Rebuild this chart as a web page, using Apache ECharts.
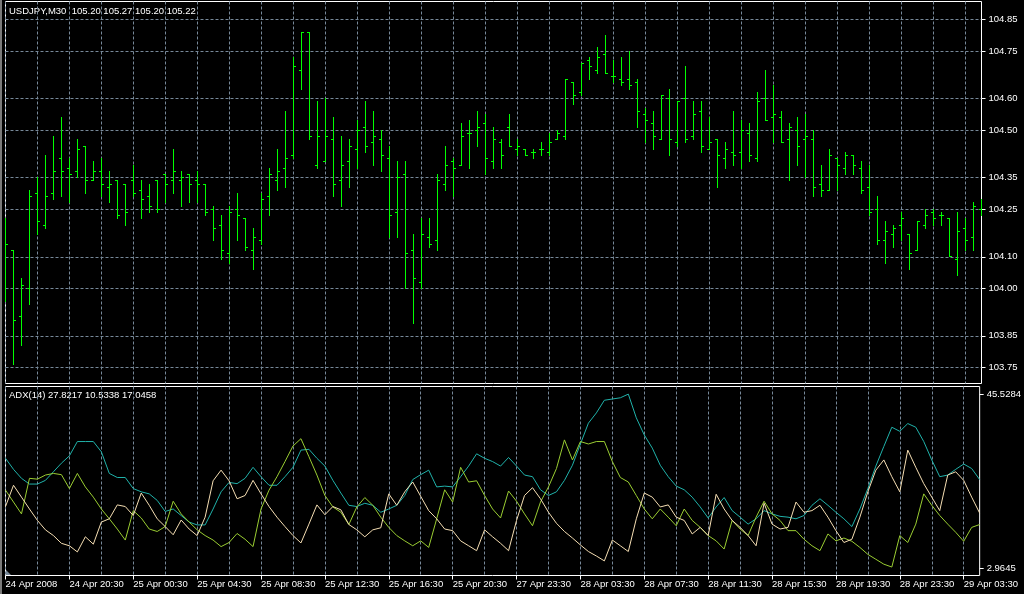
<!DOCTYPE html>
<html><head><meta charset="utf-8">
<script src="https://cdn.jsdelivr.net/npm/echarts@6/dist/echarts.min.js"></script>
<style>html,body{margin:0;padding:0;background:#000}#c{width:1024px;height:594px}</style>
</head><body><div id="c"></div>
<script>
const symbolTitle = 'USDJPY,M30  105.20 105.27 105.20 105.22';
const adxTitle = 'ADX(14) 27.8217 10.5338 17.0458';
const firstDateLabel = '24 Apr 2008';
const priceTicks = [104.85, 104.75, 104.60, 104.50, 104.35, 104.25, 104.10, 104.00, 103.85, 103.75];
const adxTicks = [45.5284, 2.9645];

const opens = [
104.20,104.12,103.91,104.00,104.30,104.20,104.30,104.41,104.38,104.37,
104.45,104.34,104.37,104.32,104.34,104.33,104.34,104.31,104.29,104.34,
104.36,104.34,104.34,104.36,104.34,104.33,104.25,104.20,104.11,104.25,
104.22,104.12,104.15,104.29,104.34,104.38,104.42,104.69,104.81,104.39,
104.40,104.47,104.34,104.40,104.44,104.51,104.46,104.47,104.41,104.24,
104.36,104.12,104.02,104.16,104.15,104.33,104.40,104.39,104.49,104.50,
104.52,104.40,104.46,104.51,104.44,104.44,104.43,104.44,104.43,104.47,
104.48,104.65,104.62,104.72,104.69,104.74,104.67,104.66,104.66,104.65,
104.55,104.52,104.47,104.60,104.46,104.60,104.48,104.56,104.44,104.47,
104.41,104.43,104.43,104.49,104.41,104.60,104.54,104.54,104.47,104.50,
104.47,104.47,104.33,104.31,104.41,104.38,104.42,104.38,104.32,104.25,
104.15,104.17,104.20,104.17,104.12,104.20,104.24,104.23,104.22,104.09,
104.19,104.16,104.25];
const highs = [
104.22,104.12,104.03,104.31,104.35,104.42,104.48,104.54,104.41,104.47,
104.45,104.40,104.41,104.37,104.34,104.33,104.39,104.34,104.33,104.34,
104.36,104.44,104.37,104.36,104.37,104.33,104.26,104.23,104.26,104.30,
104.22,104.19,104.30,104.38,104.44,104.56,104.73,104.81,104.81,104.59,
104.60,104.54,104.48,104.47,104.53,104.59,104.56,104.50,104.45,104.40,
104.40,104.17,104.22,104.22,104.36,104.45,104.41,104.52,104.53,104.56,
104.55,104.51,104.47,104.55,104.47,104.44,104.44,104.46,104.49,104.50,
104.66,104.65,104.71,104.73,104.76,104.80,104.72,104.73,104.75,104.66,
104.57,104.56,104.61,104.63,104.59,104.70,104.59,104.59,104.54,104.47,
104.46,104.56,104.53,104.52,104.62,104.69,104.64,104.56,104.52,104.54,
104.55,104.50,104.39,104.44,104.41,104.43,104.42,104.40,104.39,104.29,
104.21,104.20,104.24,104.17,104.21,104.25,104.25,104.24,104.22,104.24,
104.22,104.27,104.28];
const lows = [
103.96,103.76,103.82,103.95,104.17,104.19,104.28,104.29,104.27,104.35,
104.30,104.34,104.29,104.27,104.22,104.20,104.29,104.22,104.24,104.24,
104.27,104.30,104.26,104.27,104.27,104.23,104.15,104.09,104.08,104.15,
104.12,104.06,104.14,104.23,104.31,104.32,104.41,104.63,104.47,104.38,
104.40,104.29,104.26,104.32,104.38,104.43,104.39,104.37,104.16,104.16,
104.00,103.89,104.00,104.13,104.12,104.31,104.29,104.39,104.38,104.45,
104.36,104.38,104.38,104.45,104.42,104.42,104.41,104.42,104.42,104.47,
104.47,104.58,104.61,104.66,104.68,104.68,104.65,104.64,104.63,104.51,
104.46,104.44,104.47,104.42,104.45,104.46,104.47,104.43,104.44,104.32,
104.38,104.39,104.38,104.40,104.40,104.53,104.46,104.46,104.34,104.39,
104.35,104.29,104.29,104.31,104.31,104.36,104.36,104.30,104.23,104.14,
104.08,104.13,104.15,104.06,104.12,104.19,104.20,104.20,104.10,104.04,
104.12,104.12,104.23];
const closes = [
104.14,103.90,104.01,104.29,104.21,104.29,104.37,104.37,104.36,104.44,
104.34,104.37,104.33,104.33,104.23,104.24,104.30,104.28,104.26,104.25,
104.33,104.37,104.35,104.33,104.33,104.24,104.19,104.12,104.24,104.23,
104.13,104.16,104.28,104.36,104.37,104.41,104.70,104.81,104.48,104.48,
104.48,104.33,104.39,104.45,104.50,104.45,104.48,104.42,104.23,104.35,
104.11,104.03,104.17,104.14,104.34,104.39,104.38,104.48,104.49,104.51,
104.41,104.47,104.42,104.45,104.45,104.42,104.43,104.44,104.46,104.49,
104.66,104.61,104.71,104.70,104.73,104.68,104.67,104.65,104.64,104.56,
104.53,104.48,104.61,104.47,104.59,104.47,104.55,104.45,104.46,104.42,
104.44,104.42,104.50,104.42,104.59,104.53,104.55,104.46,104.51,104.45,
104.48,104.32,104.31,104.42,104.39,104.42,104.39,104.31,104.24,104.15,
104.18,104.19,104.22,104.11,104.21,104.23,104.22,104.23,104.10,104.18,
104.15,104.26,104.26];

const adx = [
29.8,27.1,24.9,23.5,23.5,24.4,26.5,28.6,30.4,33.9,
33.9,33.9,31.4,26.1,25.1,25.1,22.4,21.6,21.1,19.5,
16.8,17.4,15.8,14.2,13.5,13.5,17.4,21.6,23.9,23.6,
24.9,27.6,25.3,23.2,23.2,25.3,27.6,31.8,32.0,29.8,
27.9,24.4,21.3,18.3,18.0,18.8,18.3,16.6,17.4,18.3,
20.7,24.6,25.8,26.9,22.8,23.0,22.8,25.3,27.9,30.9,
29.8,29.0,27.9,30.0,27.9,25.7,25.3,22.1,20.7,21.6,
24.4,28.1,33.3,38.4,40.9,44.0,44.3,44.6,45.5,39.7,
35.5,32.3,28.1,25.3,23.0,22.1,20.3,17.9,15.2,17.9,
20.2,17.0,15.4,13.7,15.0,17.0,16.2,15.6,15.4,15.0,
15.8,18.3,19.9,18.3,16.6,15.0,13.1,17.4,22.4,27.9,
32.7,37.4,36.4,38.3,37.4,33.9,29.4,25.3,25.7,27.1,
28.4,27.3,24.6];
const plusDI = [
22.0,19.1,16.2,24.9,24.7,25.7,26.1,25.8,22.4,26.1,
22.8,20.3,17.4,15.0,12.5,9.8,17.0,15.2,12.5,11.9,
13.1,19.3,16.2,14.2,12.3,10.9,9.8,8.2,9.2,11.4,
10.0,8.2,17.4,22.0,25.3,29.0,32.8,34.6,30.2,25.7,
20.7,17.9,16.6,13.6,17.9,20.2,18.3,15.4,12.9,10.9,
9.6,8.4,9.6,8.0,15.0,22.1,19.1,27.6,24.0,24.3,
20.7,17.4,15.2,21.8,19.3,16.2,13.3,19.1,22.8,27.3,
34.3,29.4,33.9,33.3,33.9,33.9,29.0,25.1,24.0,20.7,
17.4,15.0,17.4,15.4,13.3,17.4,14.6,12.9,10.9,9.6,
7.6,14.6,12.5,10.9,15.4,19.3,16.2,14.6,12.1,12.1,
10.0,8.4,7.2,11.3,9.6,10.3,9.5,8.0,6.3,5.1,
3.9,3.2,10.9,9.2,13.7,21.1,18.3,15.8,13.7,11.7,
9.5,12.9,13.6];
const minusDI = [
18.0,23.2,20.3,17.4,14.6,12.3,10.9,9.0,8.4,6.9,
10.6,8.8,14.2,15.0,18.4,18.0,15.8,21.3,18.3,15.0,
13.1,11.1,14.7,12.5,10.9,15.4,24.3,26.9,24.3,19.9,
20.7,24.4,21.1,18.0,15.4,13.1,10.9,9.1,13.7,18.4,
16.0,18.0,17.2,13.6,12.3,10.6,12.3,12.8,21.1,18.3,
21.6,24.0,20.5,17.0,15.0,12.5,12.1,9.6,8.4,7.2,
12.3,10.6,9.0,7.2,14.6,20.7,22.6,19.9,16.6,13.9,
11.9,10.3,8.6,7.0,5.9,4.7,9.8,8.4,7.0,15.0,
21.3,20.3,17.9,18.4,15.4,14.6,11.3,12.9,10.9,21.0,
17.4,14.6,12.9,10.9,8.4,18.8,13.7,12.5,12.9,19.1,
16.6,17.0,18.3,15.4,12.1,9.2,10.0,15.4,21.6,26.9,
29.4,25.3,21.6,31.8,27.6,23.6,20.3,17.0,25.7,26.5,
24.4,20.3,16.4];

// bar times: M30 bars starting 24 Apr 2008 16:30, weekend gap to Sunday 23:00
function buildTimes(n) {
  const mon = ['Jan','Feb','Mar','Apr','May','Jun','Jul','Aug','Sep','Oct','Nov','Dec'];
  const out = [];
  let t = new Date(2008, 3, 24, 16, 30);
  for (let i = 0; i < n; i++) {
    const p = v => (v < 10 ? '0' : '') + v;
    out.push(t.getDate() + ' ' + mon[t.getMonth()] + ' ' + p(t.getHours()) + ':' + p(t.getMinutes()));
    t = new Date(t.getTime() + 30 * 60000);
    if (t.getDay() === 6) t = new Date(2008, 3, 27, 23, 0);
  }
  return out;
}
const categories = buildTimes(opens.length);

const FONT = '"Liberation Sans", Arial, sans-serif';
const GRIDC = '#778899';
const BARC = '#00ff00';

function renderBar(params, api) {
  const i = api.value(0);
  const po = api.coord([i, api.value(1)]);
  const pc = api.coord([i, api.value(2)]);
  const pl = api.coord([i, api.value(3)]);
  const ph = api.coord([i, api.value(4)]);
  const x = Math.floor(po[0]);
  const yo = Math.floor(po[1]), yc = Math.floor(pc[1]);
  const yh = Math.floor(ph[1]), yl = Math.floor(pl[1]);
  const st = { fill: BARC, stroke: null };
  return {
    type: 'group',
    children: [
      { type: 'rect', shape: { x: x, y: yh, width: 1, height: Math.max(1, yl - yh + 1) }, style: st },
      { type: 'rect', shape: { x: x - 2, y: yo, width: 2, height: 1 }, style: st },
      { type: 'rect', shape: { x: x + 1, y: yc, width: 2, height: 1 }, style: st }
    ]
  };
}

const chart = echarts.init(document.getElementById('c'), null, { renderer: 'canvas' });
chart.setOption({
  backgroundColor: '#000',
  animation: false,
  textStyle: { fontFamily: FONT },
  grid: [
    { left: 5.5, top: 1.5, width: 976, height: 382, show: true, borderColor: '#fff', borderWidth: 1, backgroundColor: '#000' },
    { left: 5.5, top: 386.5, width: 976, height: 189, show: true, borderColor: '#fff', borderWidth: 1, backgroundColor: '#000' }
  ],
  xAxis: [
    { type: 'category', gridIndex: 0, data: categories, boundaryGap: false,
      axisLine: { show: false }, axisTick: { show: false }, axisLabel: { show: false },
      splitLine: { show: true, interval: 3, lineStyle: { color: GRIDC, width: 1, type: [3, 2] } } },
    { type: 'category', gridIndex: 1, data: categories, boundaryGap: false,
      axisLine: { show: false },
      axisTick: { show: true, interval: 7, length: 4, lineStyle: { color: '#fff' } },
      axisLabel: { show: true, interval: 7, color: '#fff', fontSize: 9.5, fontFamily: FONT, align: 'left', margin: 4,
        formatter: (v, idx) => idx === 0 ? firstDateLabel : v },
      splitLine: { show: true, interval: 3, lineStyle: { color: GRIDC, width: 1, type: [3, 2] } } }
  ],
  yAxis: [
    { type: 'value', gridIndex: 0, position: 'right', min: 103.69942, max: 104.9069,
      axisLine: { show: false },
      axisTick: { show: true, length: 4, customValues: priceTicks, lineStyle: { color: '#fff' } },
      axisLabel: { show: true, customValues: priceTicks, color: '#fff', fontSize: 9.5, fontFamily: FONT, margin: 7,
        formatter: v => Number(v).toFixed(2) },
      splitLine: { show: true, lineStyle: { color: GRIDC, width: 1, type: [3, 2] } } },
    { type: 'value', gridIndex: 1, position: 'right', min: 1.130, max: 47.363,
      axisLine: { show: false },
      axisTick: { show: true, length: 4, customValues: adxTicks, lineStyle: { color: '#fff' } },
      axisLabel: { show: true, customValues: adxTicks, color: '#fff', fontSize: 9.5, fontFamily: FONT, margin: 7,
        formatter: v => Number(v).toFixed(4) },
      splitLine: { show: false } }
  ],
  series: [
    { type: 'custom', name: 'USDJPY', xAxisIndex: 0, yAxisIndex: 0, clip: true,
      renderItem: renderBar,
      encode: { x: 0, y: [1, 2, 3, 4] },
      data: categories.map((c, i) => [i, opens[i], closes[i], lows[i], highs[i]]) },
    { type: 'line', name: 'ADX', xAxisIndex: 1, yAxisIndex: 1, data: adx, showSymbol: false, symbol: 'none',
      lineStyle: { color: '#20b2aa', width: 1 }, itemStyle: { color: '#20b2aa' } },
    { type: 'line', name: '+DI', xAxisIndex: 1, yAxisIndex: 1, data: plusDI, showSymbol: false, symbol: 'none',
      lineStyle: { color: '#9acd32', width: 1 }, itemStyle: { color: '#9acd32' } },
    { type: 'line', name: '-DI', xAxisIndex: 1, yAxisIndex: 1, data: minusDI, showSymbol: false, symbol: 'none',
      lineStyle: { color: '#f5deb3', width: 1 }, itemStyle: { color: '#f5deb3' } }
  ],
  graphic: [
    { type: 'rect', shape: { x: 0, y: 0, width: 2, height: 594 }, style: { fill: '#7a7a7a' }, silent: true },
    { type: 'polygon', shape: { points: [[6, 570], [6, 575], [11, 575]] }, style: { fill: GRIDC }, silent: true },
    { type: 'text', x: 9, y: 11, silent: true,
      style: { text: symbolTitle, fill: '#fff', font: '9.5px ' + FONT, align: 'left', verticalAlign: 'middle' } },
    { type: 'text', x: 9, y: 395, silent: true,
      style: { text: adxTitle, fill: '#fff', font: '9.5px ' + FONT, align: 'left', verticalAlign: 'middle' } }
  ]
});
</script></body></html>
